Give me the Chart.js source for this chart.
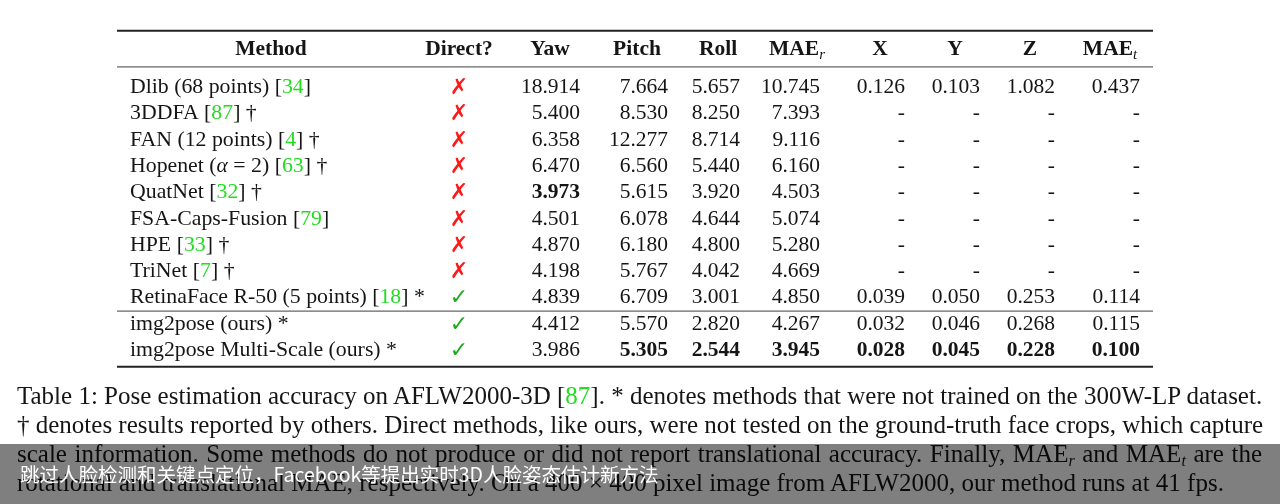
<!DOCTYPE html>
<html>
<head>
<meta charset="utf-8">
<script src="https://cdn.jsdelivr.net/npm/chart.js@4.4.1/dist/chart.umd.min.js"></script>
<style>
  html, body { margin: 0; padding: 0; background: #fff; }
  #wrap { position: relative; width: 1280px; height: 504px; overflow: hidden; }
  #tableChart { position: absolute; left: 0; top: 0; }
  .caption { position: absolute; left: 17px; top: 381px; width: 1245px;
    font-family: 'Liberation Serif', 'Times New Roman', serif; font-size: 25px; line-height: 29px; color: #151515; }
  .caption div { white-space: nowrap; }
  .caption .j { text-align: justify; text-align-last: justify; }
  .caption .cite { color: #22dd22; }
  .caption sub { font-size: 16px; font-style: italic; line-height: 0; vertical-align: -4px; }
  .banner { position: absolute; left: 0; top: 444px; width: 1280px; height: 60px; background: rgba(0, 0, 0, 0.5); }
  .banner span { position: absolute; left: 20px; top: 0; line-height: 60px; color: #fff;
    font-family: 'Noto Sans CJK SC', sans-serif; font-size: 19.5px; }
</style>
</head>
<body>
<div id="wrap">
  <canvas id="tableChart" width="1280" height="504"></canvas>
  <div class="caption">
    <div class="j">Table 1: Pose estimation accuracy on AFLW2000-3D [<span class="cite">87</span>]. * denotes methods that were not trained on the 300W-LP dataset.</div>
    <div class="j">† denotes results reported by others. Direct methods, like ours, were not tested on the ground-truth face crops, which capture</div>
    <div class="j">scale information. Some methods do not produce or did not report translational accuracy. Finally, MAE<sub>r</sub> and MAE<sub>t</sub> are the</div>
    <div>rotational and translational MAE, respectively. On a 400 × 400 pixel image from AFLW2000, our method runs at 41 fps.</div>
  </div>
  <div class="banner"><span>跳过人脸检测和关键点定位，Facebook等提出实时3D人脸姿态估计新方法</span></div>
</div>
<script>
// -----------------------------------------------------------------------
// Table data (AFLW2000-3D pose estimation)
// -----------------------------------------------------------------------
const methods = [
    'Dlib (68 points)', '3DDFA', 'FAN (12 points)', 'Hopenet (α = 2)', 'QuatNet',
    'FSA-Caps-Fusion', 'HPE', 'TriNet', 'RetinaFace R-50 (5 points)',
    'img2pose (ours)', 'img2pose Multi-Scale (ours)'
];
const citations = ['34', '87', '4', '63', '32', '79', '33', '7', '18', '', ''];
const notes = ['', '†', '†', '†', '†', '', '†', '†', '*', '*', '*'];
const direct = [false, false, false, false, false, false, false, false, true, true, true];

const headers = ['Method', 'Direct?', 'Yaw', 'Pitch', 'Roll', 'MAE_r', 'X', 'Y', 'Z', 'MAE_t'];

const yaw   = [18.914, 5.400, 6.358, 6.470, 3.973, 4.501, 4.870, 4.198, 4.839, 4.412, 3.986];
const pitch = [7.664, 8.530, 12.277, 6.560, 5.615, 6.078, 6.180, 5.767, 6.709, 5.570, 5.305];
const roll  = [5.657, 8.250, 8.714, 5.440, 3.920, 4.644, 4.800, 4.042, 3.001, 2.820, 2.544];
const maeR  = [10.745, 7.393, 9.116, 6.160, 4.503, 5.074, 5.280, 4.669, 4.850, 4.267, 3.945];
const tx    = [0.126, null, null, null, null, null, null, null, 0.039, 0.032, 0.028];
const ty    = [0.103, null, null, null, null, null, null, null, 0.050, 0.046, 0.045];
const tz    = [1.082, null, null, null, null, null, null, null, 0.253, 0.268, 0.228];
const maeT  = [0.437, null, null, null, null, null, null, null, 0.114, 0.115, 0.100];

// layout: column anchors along the table width (left for Method, centre for Direct?, right for numbers)
const TABLE_W = 1036;
const colAnchor = [13, 342, 463, 551, 623, 703, 788, 863, 938, 1023];
const headCenter = [154, 342, 433, 520, 601, 680, 763, 838, 913, 993];

const SERIF = "'Liberation Serif', 'Times New Roman', serif";
const FS = 21.5;
const F_REG = FS + 'px ' + SERIF;
const F_BOLD = 'bold ' + FS + 'px ' + SERIF;
const F_IT = 'italic ' + FS + 'px ' + SERIF;
const F_NAME = '21.8px ' + SERIF;
const INK = '#151515';
const CITE = '#22dd22';

// -----------------------------------------------------------------------
// Helpers
// -----------------------------------------------------------------------
function drawRuns(ctx, runs, x, y, align) {
    let total = 0;
    runs.forEach(r => { ctx.font = r.font; total += ctx.measureText(r.t).width; });
    let cx = align === 'right' ? x - total : align === 'center' ? x - total / 2 : x;
    ctx.textAlign = 'left';
    ctx.textBaseline = 'alphabetic';
    runs.forEach(r => {
        ctx.font = r.font;
        ctx.fillStyle = r.color || INK;
        ctx.fillText(r.t, cx, y + (r.dy || 0));
        cx += ctx.measureText(r.t).width;
    });
}

function methodRuns(i) {
    const runs = [];
    const parts = methods[i].split('α');
    parts.forEach((p, k) => {
        if (k > 0) runs.push({ t: 'α', font: F_IT });
        runs.push({ t: p, font: F_NAME });
    });
    if (citations[i]) {
        runs.push({ t: ' [', font: F_NAME });
        runs.push({ t: citations[i], font: F_NAME, color: CITE });
        runs.push({ t: ']', font: F_NAME });
    }
    if (notes[i]) runs.push({ t: ' ' + notes[i], font: F_NAME });
    return runs;
}

function headerRuns(h) {
    const [main, sub] = h.split('_');
    const runs = [{ t: main, font: F_BOLD }];
    if (sub) runs.push({ t: sub, font: 'italic 15px ' + SERIF, dy: 4 });
    return runs;
}

const numericCols = [yaw, pitch, roll, maeR, tx, ty, tz, maeT];

// one scatter dataset per column, positioned through the x/y scales
const datasets = [];
datasets.push({
    kind: 'method',
    data: methods.map(m => ({ x: colAnchor[0], y: m }))
});
datasets.push({
    kind: 'direct',
    data: methods.map(m => ({ x: colAnchor[1], y: m }))
});
numericCols.forEach((col, c) => {
    const best = Math.min(...col.filter(v => v !== null));
    datasets.push({
        kind: 'number',
        values: col,
        best: best,
        data: methods.map(m => ({ x: colAnchor[c + 2], y: m }))
    });
});

// -----------------------------------------------------------------------
// Plugin that draws the table text and rules
// -----------------------------------------------------------------------
const tablePlugin = {
    id: 'tableText',
    afterDatasetsDraw(chart) {
        const ctx = chart.ctx;
        const area = chart.chartArea;
        const xs = chart.scales.x;
        const ys = chart.scales.y;
        ctx.save();

        // rules
        const rule = (y, w, color) => {
            ctx.beginPath();
            ctx.lineWidth = w;
            ctx.strokeStyle = color;
            ctx.moveTo(area.left, y);
            ctx.lineTo(area.right, y);
            ctx.stroke();
        };
        rule(area.top - 42, 2, '#222');
        rule(area.top - 6, 1.4, '#666');
        const mid = (ys.getPixelForValue(8) + ys.getPixelForValue(9)) / 2 + 1.5;
        rule(mid, 1.2, '#666');
        rule(area.bottom + 4.5, 2, '#222');

        // header row
        headers.forEach((h, c) => {
            drawRuns(ctx, headerRuns(h), xs.getPixelForValue(headCenter[c]), area.top - 25 + 7, 'center');
        });

        // body cells
        chart.data.datasets.forEach((ds, d) => {
            const meta = chart.getDatasetMeta(d);
            meta.data.forEach((el, i) => {
                const by = el.y + 7;
                if (ds.kind === 'method') {
                    drawRuns(ctx, methodRuns(i), el.x, by, 'left');
                } else if (ds.kind === 'direct') {
                    const ok = direct[i];
                    drawRuns(ctx, [{
                        t: ok ? '✓' : '✗',
                        font: "bold 22px 'DejaVu Sans'",
                        color: ok ? '#1ea81e' : '#ff1a1a'
                    }], el.x, by + 1, 'center');
                } else {
                    const v = ds.values[i];
                    const txt = v === null ? '-' : v.toFixed(3);
                    const font = v !== null && v === ds.best ? F_BOLD : F_REG;
                    drawRuns(ctx, [{ t: txt, font: font }], el.x, by, 'right');
                }
            });
        });
        ctx.restore();
    }
};

const ctxTable = document.getElementById('tableChart').getContext('2d');
window.tableChart = new Chart(ctxTable, {
    type: 'scatter',
    data: { datasets: datasets },
    options: {
        responsive: false,
        animation: false,
        events: [],
        layout: { padding: { left: 117, right: 127, top: 72.85, bottom: 141.85 } },
        elements: { point: { radius: 0, hoverRadius: 0 } },
        scales: {
            x: { type: 'linear', min: 0, max: TABLE_W, display: false },
            y: { type: 'category', labels: methods, offset: true, display: false }
        },
        plugins: {
            legend: { display: false },
            tooltip: { enabled: false }
        }
    },
    plugins: [tablePlugin]
});
</script>
</body>
</html>
